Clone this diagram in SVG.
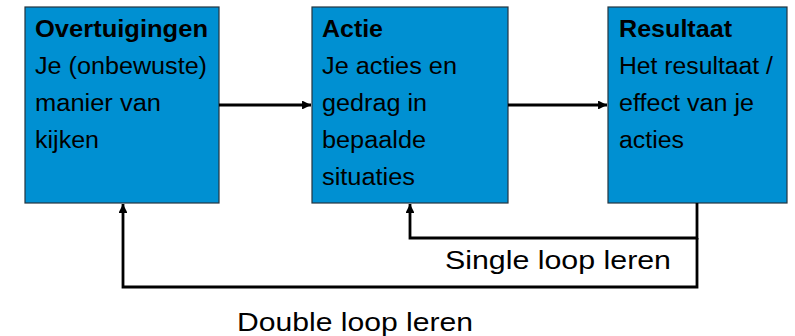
<svg xmlns="http://www.w3.org/2000/svg" width="795" height="336" viewBox="0 0 795 336">
<style>
.box{fill:#0090D2;stroke:#233540;stroke-width:1.2}
.t{font-family:"Liberation Sans",Arial,sans-serif;font-size:23px;fill:#000}
.b{font-weight:bold}
.lbl{font-family:"Liberation Sans",Arial,sans-serif;font-size:26px;fill:#000}
.c{fill:none;stroke:#000;stroke-width:2.8}
</style>
<defs>
<marker id="ah" viewBox="0 0 10 10" refX="10" refY="5" markerWidth="3.2" markerHeight="3.2" orient="auto" markerUnits="strokeWidth">
<path d="M0,0 L10,5 L0,10 z" fill="#000"/>
</marker>
</defs>
<rect width="795" height="336" fill="#fff"/>
<g id="overtuigingen">
<rect class="box" x="25" y="7" width="194" height="196"/>
<text class="t b" x="35" y="37" textLength="173" lengthAdjust="spacingAndGlyphs">Overtuigingen</text>
<text class="t" x="35" y="74" textLength="172" lengthAdjust="spacingAndGlyphs">Je (onbewuste)</text>
<text class="t" x="35" y="111" textLength="126" lengthAdjust="spacingAndGlyphs">manier van</text>
<text class="t" x="35" y="148" textLength="64" lengthAdjust="spacingAndGlyphs">kijken</text>
</g>
<g id="actie">
<rect class="box" x="312" y="7" width="196" height="196"/>
<text class="t b" x="322" y="37" textLength="61" lengthAdjust="spacingAndGlyphs">Actie</text>
<text class="t" x="322" y="74" textLength="135" lengthAdjust="spacingAndGlyphs">Je acties en</text>
<text class="t" x="322" y="111" textLength="105" lengthAdjust="spacingAndGlyphs">gedrag in</text>
<text class="t" x="322" y="148" textLength="104" lengthAdjust="spacingAndGlyphs">bepaalde</text>
<text class="t" x="322" y="185" textLength="93" lengthAdjust="spacingAndGlyphs">situaties</text>
</g>
<g id="resultaat">
<rect class="box" x="608" y="7" width="179" height="196"/>
<text class="t b" x="619" y="37" textLength="113" lengthAdjust="spacingAndGlyphs">Resultaat</text>
<text class="t" x="619" y="74" textLength="154" lengthAdjust="spacingAndGlyphs">Het resultaat /</text>
<text class="t" x="619" y="111" textLength="135" lengthAdjust="spacingAndGlyphs">effect van je</text>
<text class="t" x="619" y="148" textLength="65" lengthAdjust="spacingAndGlyphs">acties</text>
</g>
<g id="connectors">
<line class="c" x1="219" y1="105" x2="311" y2="105" marker-end="url(#ah)"/>
<line class="c" x1="508" y1="105" x2="607" y2="105" marker-end="url(#ah)"/>
<polyline class="c" points="697,203 697,238 410,238 410,204" marker-end="url(#ah)"/>
<polyline class="c" points="697,238 697,287 123,287 123,204" marker-end="url(#ah)"/>
</g>
<g id="labels">
<text class="lbl" x="445" y="269" textLength="226" lengthAdjust="spacingAndGlyphs">Single loop leren</text>
<text class="lbl" x="237" y="331" textLength="236" lengthAdjust="spacingAndGlyphs">Double loop leren</text>
</g>
</svg>
